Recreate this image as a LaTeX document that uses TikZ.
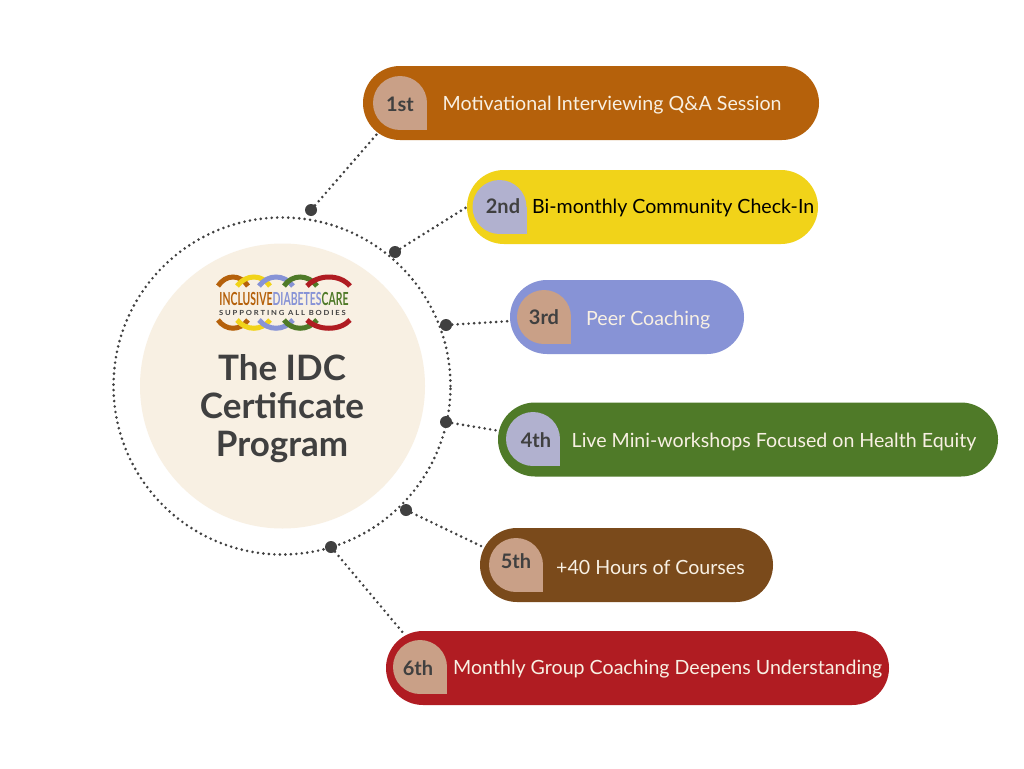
\documentclass[tikz,border=0pt]{standalone}
\usepackage{fontspec}
\setmainfont{Lato}
\usetikzlibrary{shapes.misc}
\definecolor{ochre}{HTML}{B5610B}
\definecolor{sun}{HTML}{F1D319}
\definecolor{periw}{HTML}{8793D6}
\definecolor{leaf}{HTML}{4F7A28}
\definecolor{bark}{HTML}{7A4A1B}
\definecolor{berry}{HTML}{B01C22}
\definecolor{tan}{HTML}{C9A087}
\definecolor{lavend}{HTML}{B1B1CF}
\definecolor{cream}{HTML}{F8F0E3}
\definecolor{ink}{HTML}{404040}
\definecolor{pale}{HTML}{F8F0E3}

% badge shape: x, y (centre), colour
\newcommand{\badge}[3]{
    \fill[#3] (#1+27,#2) arc (0:-360:27) -- cycle;
    \fill[#3] (#1,#2) rectangle (#1+27,#2+27);
}

\begin{document}
\begin{tikzpicture}[x=1pt, y=-1pt]
    \tikzset{
        pill/.style={rounded rectangle, fill=#1, minimum height=74pt, inner sep=0pt},
        badgetext/.style={text=ink, font=\fontsize{20}{22}\selectfont\bfseries, inner sep=0pt},
        pilltext/.style={anchor=west, text=pale, font=\fontsize{19.6}{22}\selectfont, inner sep=0pt},
        dotline/.style={draw=ink, line width=2.9pt, line cap=round, dash pattern=on 0pt off 5.5pt},
        pin/.style={circle, fill=ink, minimum size=12pt, inner sep=0pt},
        band/.style={line width=5pt}
    }
    \useasboundingbox[fill=white] (0,0) rectangle (1024,768);

    % centre
    \node[circle, fill=cream, minimum size=285pt, inner sep=0pt] (hub) at (282.5,386) {};
    \node[circle, dotline, minimum size=337pt, inner sep=0pt] (ring) at (282,386) {};
    \node[text=ink, align=center, font=\fontsize{35}{38}\selectfont\bfseries, inner sep=0pt] (title) at (282,409) {The IDC\\Certificate\\Program};

    % logo
    \draw[band, ochre] (218,286) .. controls (226,274) and (240,274) .. (248,286);
    \draw[band, sun] (237,286) .. controls (246,274) and (262,274) .. (270,286);
    \draw[band, periw] (259,286) .. controls (268,274) and (284,274) .. (293,286);
    \draw[band, leaf] (284,286) .. controls (292,274) and (308,274) .. (317,286);
    \draw[band, berry] (307,286) .. controls (318,274) and (340,274) .. (350,286);
    \draw[band, ochre] (218,320) .. controls (226,331) and (240,331) .. (248,320);
    \draw[band, sun] (237,320) .. controls (246,331) and (262,331) .. (270,320);
    \draw[band, periw] (259,320) .. controls (268,331) and (284,331) .. (293,320);
    \draw[band, leaf] (284,320) .. controls (292,331) and (308,331) .. (317,320);
    \draw[band, berry] (307,320) .. controls (318,331) and (340,331) .. (350,320);
    \node[inner sep=0pt, font=\fontsize{18}{18}\selectfont\bfseries] (logoname) at (284,299) {\scalebox{0.58}[1]{\textcolor{ochre}{INCLUSIVE}\textcolor{periw}{DIABETES}\textcolor{leaf}{CARE}}};
    \node[inner sep=0pt, text=ink, font=\fontsize{7}{7}\selectfont\bfseries] (logotag) at (282.5,312.5) {\scalebox{1.09}[1]{S U P P O R T I N G\ \ A L L\ \ B O D I E S}};

    % pills
    \node[pill=ochre, minimum width=456pt] (p1) at (591,103) {};
    \node[pill=sun, minimum width=351pt] (p2) at (642.5,207) {};
    \node[pill=periw, minimum width=234pt] (p3) at (627,317) {};
    \node[pill=leaf, minimum width=500pt] (p4) at (748,439.5) {};
    \node[pill=bark, minimum width=293pt] (p5) at (626.5,565) {};
    \node[pill=berry, minimum width=503pt] (p6) at (637.5,668) {};

    % badges
    \badge{400}{103}{tan}
    \badge{499.5}{207}{lavend}
    \badge{544}{317}{tan}
    \badge{533}{439}{lavend}
    \badge{516}{565}{tan}
    \badge{420}{667}{tan}
    \node[badgetext] (b1) at (400,104) {1st};
    \node[badgetext] (b2) at (503,206) {2nd};
    \node[badgetext] (b3) at (544,317) {3rd};
    \node[badgetext] (b4) at (536,440) {4th};
    \node[badgetext] (b5) at (516,561) {5th};
    \node[badgetext] (b6) at (418,668) {6th};

    % texts
    \node[pilltext] (t1) at (442.5,105.5) {Motivational Interviewing Q\&A Session};
    \node[pilltext, text=black] (t2) at (532,208) {Bi-monthly Community Check-In};
    \node[pilltext] (t3) at (586,320.5) {Peer Coaching};
    \node[pilltext] (t4) at (571.5,442) {Live Mini-workshops Focused on Health Equity};
    \node[pilltext] (t5) at (556,567) {+40 Hours of Courses};
    \node[pilltext] (t6) at (453,669.5) {Monthly Group Coaching Deepens Understanding};

    % pins
    \node[pin] (d1) at (311,210) {};
    \node[pin] (d2) at (395,252) {};
    \node[pin] (d3) at (446,325) {};
    \node[pin] (d4) at (446,422) {};
    \node[pin] (d5) at (406,510) {};
    \node[pin] (d6) at (331,547) {};

    % links
    \draw[dotline] (d1) -- (p1.188);
    \draw[dotline] (d2) -- (p2.180);
    \draw[dotline] (d3) -- (p3.182);
    \draw[dotline] (d4) -- (p4.178);
    \draw[dotline] (d5) -- (p5.173);
    \draw[dotline] (d6) -- (p6.172);
\end{tikzpicture}
\end{document}
